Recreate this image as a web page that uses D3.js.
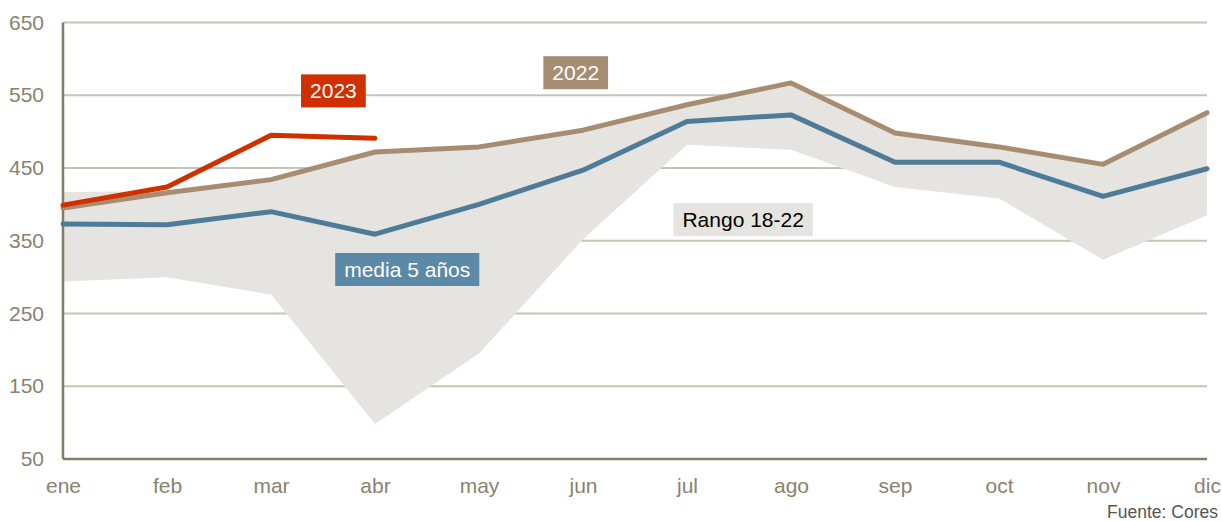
<!DOCTYPE html>
<meta charset="utf-8">
<script src="https://cdn.jsdelivr.net/npm/d3@7/dist/d3.min.js"></script>
<style>
  body { margin: 0; background: #fff; }
  text { font-family: "Liberation Sans", Arial, sans-serif; }
</style>
<div id="my_dataviz"></div>
<script>

// months and series
var months = ["ene", "feb", "mar", "abr", "may", "jun", "jul", "ago", "sep", "oct", "nov", "dic"];
var yTicks = [50, 150, 250, 350, 450, 550, 650];

var s2023 = [399, 424, 495, 491];
var s2022 = [395, 416, 434, 472, 479, 502, 537, 567, 498, 479, 455, 526];
var media5 = [373, 372, 390, 359, 400, 447, 514, 523, 458, 458, 411, 449];
var rangoMax = [417, 418, 434, 472, 479, 502, 537, 567, 498, 479, 455, 526];
var rangoMin = [294, 300, 276, 98, 195, 352, 482, 475, 424, 408, 324, 385];

// set the dimensions and margins of the graph
var margin = {top: 22.5, right: 15, bottom: 62, left: 63},
  width = 1222 - margin.left - margin.right,
  height = 521 - margin.top - margin.bottom;

var svg = d3.select("#my_dataviz")
  .append("svg")
    .attr("width", 1222)
    .attr("height", 521)
  .append("g")
    .attr("transform", "translate(" + margin.left + "," + margin.top + ")");

var x = d3.scaleLinear().domain([0, 11]).range([0, width]);
var y = d3.scaleLinear().domain([50, 650]).range([height, 0]);

// gridlines
svg.selectAll(".grid")
  .data(yTicks.filter(function(d) { return d > 50; }))
  .enter()
  .append("line")
    .attr("x1", 0)
    .attr("x2", width)
    .attr("y1", function(d) { return y(d); })
    .attr("y2", function(d) { return y(d); })
    .style("stroke", "#c9c3b5")
    .style("stroke-width", 2);

// rango 18-22 band
var band = d3.area()
  .x(function(d, i) { return x(i); })
  .y0(function(d, i) { return y(rangoMin[i]); })
  .y1(function(d) { return y(d); });

svg.append("path")
  .datum(rangoMax)
  .attr("d", band)
  .style("fill", "#e6e4e0");

// axes
var yAxis = svg.append("g")
  .call(d3.axisLeft(y).tickValues(yTicks).tickSize(0).tickPadding(19));
var xAxis = svg.append("g")
  .attr("transform", "translate(0," + height + ")")
  .call(d3.axisBottom(x).tickValues(d3.range(12)).tickSize(0).tickPadding(19)
    .tickFormat(function(i) { return months[i]; }));

[xAxis, yAxis].forEach(function(a) {
  a.select(".domain").style("stroke", "#857b66").style("stroke-width", 2.5);
  a.selectAll("text")
    .style("font-size", "21px")
    .style("fill", "#8a826f")
    .style("font-family", "Liberation Sans, Arial, sans-serif");
});
xAxis.select(".domain").attr("d", "M0,0H" + width);
yAxis.select(".domain").attr("d", "M0," + height + "V0");

// lines
var line = d3.line()
  .x(function(d, i) { return x(i); })
  .y(function(d) { return y(d); });

var series = [
  {values: media5, color: "#4e7b97", w: 5},
  {values: s2022, color: "#a68d72", w: 5},
  {values: s2023, color: "#d03000", w: 5}
];

series.forEach(function(s) {
  svg.append("path")
    .datum(s.values)
    .attr("d", line)
    .style("fill", "none")
    .style("stroke", s.color)
    .style("stroke-width", s.w)
    .style("stroke-linejoin", "round")
    .style("stroke-linecap", "round");
});

// labels
var labels = [
  {text: "2023", i: 2.6, v: 556, bg: "#d03000", fg: "#fff"},
  {text: "2022", i: 4.93, v: 581, bg: "#a68d72", fg: "#fff"},
  {text: "media 5 años", i: 3.31, v: 310.5, bg: "#5b89a6", fg: "#fff"},
  {text: "Rango 18-22", i: 6.54, v: 379, bg: "#e6e4e0", fg: "#000"}
];

labels.forEach(function(l) {
  var g = svg.append("g")
    .attr("transform", "translate(" + x(l.i) + "," + y(l.v) + ")");
  var r = g.append("rect");
  var t = g.append("text")
    .attr("text-anchor", "middle")
    .attr("dy", "0.36em")
    .style("font-size", "21px")
    .style("fill", l.fg)
    .text(l.text);
  var bb = t.node().getBBox();
  r.attr("x", -bb.width / 2 - 9)
    .attr("y", -16.5)
    .attr("width", bb.width + 18)
    .attr("height", 33)
    .style("fill", l.bg);
});

// source
svg.append("text")
  .attr("x", width + 11)
  .attr("y", height + 59)
  .attr("text-anchor", "end")
  .style("font-size", "17.5px")
  .style("fill", "#555")
  .text("Fuente: Cores");

</script>
